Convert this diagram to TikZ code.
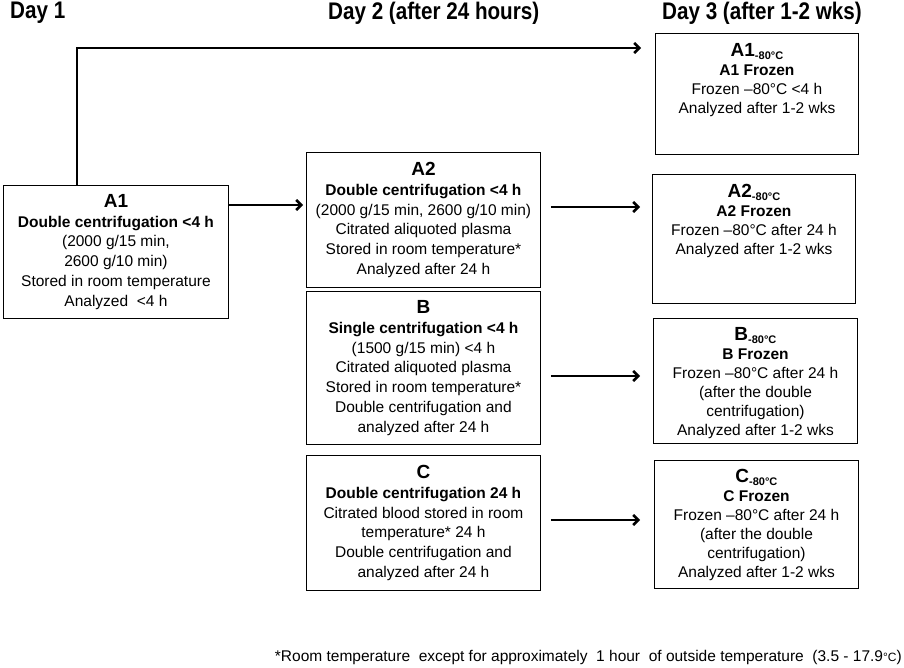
\documentclass[tikz,border=0pt]{standalone}
\usepackage{fontspec}
\setmainfont{Liberation Sans}
\newfontfamily\headfont[FakeStretch=0.86]{Liberation Sans}
\usetikzlibrary{arrows.meta}

\newcommand{\boxtitle}[1]{{\fontsize{19}{19}\selectfont\bfseries #1}}
\newcommand{\minuseighty}{{\fontsize{11}{11}\selectfont\bfseries\raisebox{-3.5pt}{-80°C}}}

\tikzset{
  stepbox/.style={draw, line width=0.9pt, anchor=north west, align=center,
    inner sep=0pt, font=\fontsize{15.5}{19.8}\selectfont},
  frozenbox/.style={draw, line width=0.9pt, anchor=north west, inner sep=0pt},
  frozentext/.style={anchor=north, align=center, inner sep=0pt,
    font=\fontsize{15.5}{19}\selectfont},
  dayhead/.style={anchor=west, inner sep=0pt,
    font=\headfont\bfseries\fontsize{24}{24}\selectfont},
  arr/.style={line width=2.5pt, -{Straight Barb[length=5pt,width=10pt]}}
}

\begin{document}
\begin{tikzpicture}[x=1pt, y=-1pt]

  \useasboundingbox (0,0) rectangle (904,668);

  % Day headers
  \node[dayhead] (day1) at (10,13) {Day 1};
  \node[dayhead] (day2) at (328,13) {Day 2 (after 24 hours)};
  \node[dayhead] (day3) at (662,13) {Day 3 (after 1-2 wks)};

  % Day 1
  \node[stepbox, minimum width=225, minimum height=133] (A1) at (3,185)
    {\boxtitle{A1}\\ \textbf{Double centrifugation <4 h}\\ (2000 g/15 min,\\
     2600 g/10 min)\\ Stored in room temperature\\ Analyzed \ <4 h};

  % Day 2
  \node[stepbox, minimum width=234, minimum height=135] (A2) at (306,152)
    {\boxtitle{A2}\\ \textbf{Double centrifugation <4 h}\\
     (2000 g/15 min, 2600 g/10 min)\\ Citrated aliquoted plasma\\
     Stored in room temperature*\\ Analyzed after 24 h};
  \node[stepbox, minimum width=234, minimum height=153] (B) at (306,291)
    {\boxtitle{B}\\ \textbf{Single centrifugation <4 h}\\ (1500 g/15 min) <4 h\\
     Citrated aliquoted plasma\\ Stored in room temperature*\\
     Double centrifugation and\\ analyzed after 24 h};
  \node[stepbox, minimum width=234, minimum height=135] (C) at (306,455)
    {\boxtitle{C}\\ \textbf{Double centrifugation 24 h}\\
     Citrated blood stored in room\\ temperature* 24 h\\
     Double centrifugation and\\ analyzed after 24 h};

  % Day 3
  \node[frozenbox, minimum width=203, minimum height=121] (A1f) at (655,33) {};
  \node[frozentext] (A1ft) at ([yshift=-10pt]A1f.north)
    {\boxtitle{A1}\minuseighty\\ \textbf{A1 Frozen}\\ Frozen –80°C <4 h\\
     Analyzed after 1-2 wks};
  \node[frozenbox, minimum width=203, minimum height=129] (A2f) at (652,174) {};
  \node[frozentext] (A2ft) at ([yshift=-10pt]A2f.north)
    {\boxtitle{A2}\minuseighty\\ \textbf{A2 Frozen}\\ Frozen –80°C after 24 h\\
     Analyzed after 1-2 wks};
  \node[frozenbox, minimum width=204, minimum height=125] (Bf) at (653,318) {};
  \node[frozentext] (Bft) at ([yshift=-9pt]Bf.north)
    {\boxtitle{B}\minuseighty\\ \textbf{B Frozen}\\ Frozen –80°C after 24 h\\
     (after the double\\ centrifugation)\\ Analyzed after 1-2 wks};
  \node[frozenbox, minimum width=204, minimum height=128] (Cf) at (654,460) {};
  \node[frozentext] (Cft) at ([yshift=-9pt]Cf.north)
    {\boxtitle{C}\minuseighty\\ \textbf{C Frozen}\\ Frozen –80°C after 24 h\\
     (after the double\\ centrifugation)\\ Analyzed after 1-2 wks};

  % Arrows
  \draw[arr] ([xshift=74pt]A1.north west) |- ([shift={(-14pt,-15pt)}]A1f.north west);
  \draw[arr, shorten >=3pt] (A1.east |- 0,205) -- (A2.west |- 0,205);
  \draw[arr, shorten <=10pt, shorten >=12pt] (A2.east |- 0,207) -- (A2f.west |- 0,207);
  \draw[arr, shorten <=10pt, shorten >=13pt] (B.east |- 0,376) -- (Bf.west |- 0,376);
  \draw[arr, shorten <=10pt, shorten >=14pt] (C.east |- 0,520) -- (Cf.west |- 0,520);

  % Footnote
  \node[anchor=east, inner sep=0pt, font=\fontsize{15.5}{15.5}\selectfont] (note) at (902,657)
    {*Room temperature \ except for approximately \ 1 hour \ of outside temperature \ (3.5 - 17.9{\fontsize{12}{12}\selectfont °C})};

\end{tikzpicture}
\end{document}
